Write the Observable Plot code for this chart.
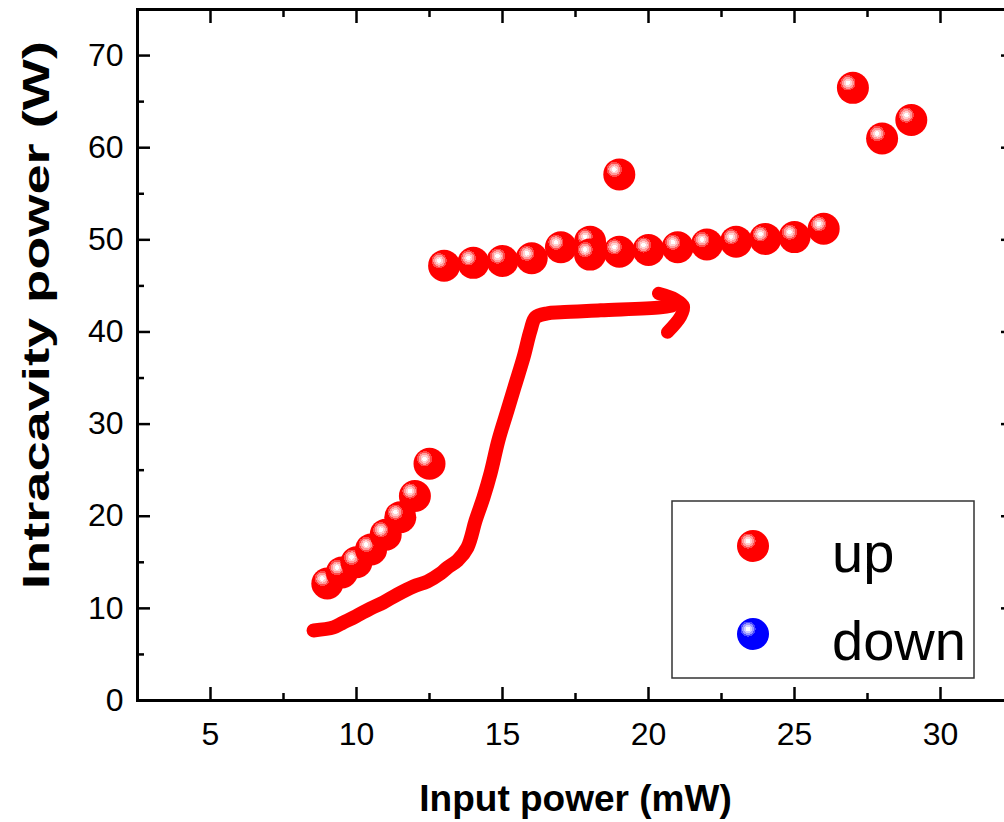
<!DOCTYPE html>
<html><head><meta charset="utf-8">
<script src="https://cdn.jsdelivr.net/npm/d3@7"></script>
<script src="https://cdn.jsdelivr.net/npm/@observablehq/plot@0.6"></script>
<style>
body{margin:0;background:#fff;}
#chart{position:relative;width:1004px;height:822px;overflow:hidden;}
#chart svg{font-family:"Liberation Sans",Arial,sans-serif;}
</style></head><body><div id="chart"></div>
<script>
// "up" series (input power mW, intracavity power W)
const upX = [9, 9.5, 10, 10.5, 11, 11.5, 12, 12.5, 13, 14, 15, 16, 17, 18, 18, 19, 20, 21, 22, 23, 24, 25, 26, 19, 27, 28, 29];
const upY = [12.7, 13.9, 15.0, 16.4, 18.0, 19.9, 22.2, 25.7, 47.2, 47.5, 47.7, 48.0, 49.2, 49.8, 48.4, 48.7, 48.9, 49.2, 49.5, 49.8, 50.1, 50.3, 51.2, 57.1, 66.5, 61.0, 63.0];
// "down" series (legend only, no points visible)
const downX = [];
const downY = [];
// hand-drawn guide curve
const curveX = [8.53, 9.21, 9.55, 9.97, 10.48, 10.92, 11.40, 11.95, 12.43, 12.88, 13.12, 13.46, 13.80, 14.08, 14.35, 14.59, 14.86, 15.17, 15.45, 15.72, 15.96, 16.13, 16.54, 16.99, 18.36, 20.41, 20.82];
const curveY = [7.6, 7.93, 8.47, 9.12, 9.99, 10.64, 11.51, 12.38, 12.92, 13.79, 14.44, 15.20, 16.61, 19.54, 22.04, 24.65, 28.23, 31.49, 34.42, 37.24, 40.17, 41.58, 42.02, 42.13, 42.35, 42.67, 42.89];
const arrowX = [20.34, 20.92, 21.20, 21.10, 20.65];
const arrowY = [44.19, 43.54, 42.78, 41.69, 39.96];
// ticks
const xTicks = [5, 10, 15, 20, 25, 30];
const xMinor = [2.5, 7.5, 12.5, 17.5, 22.5, 27.5, 32.5];
const yTicks = [0, 10, 20, 30, 40, 50, 60, 70];
const yMinor = [5, 15, 25, 35, 45, 55, 65, 75];
const xLabel = "Input power (mW)";
const yLabel = "Intracavity power (W)";
const legendLabels = ["up", "down"];
const legendColors = ["red", "blue"];

const up = upX.map((x, i) => ({x, y: upY[i]}));
const down = downX.map((x, i) => ({x, y: downY[i]}));
const curve = curveX.map((x, i) => ({x, y: curveY[i]}));
const arrow = arrowX.map((x, i) => ({x, y: arrowY[i]}));

const tk = {strokeWidth: 2.5, fill: "none", label: null};
const svg = Plot.plot({
  width: 1004,
  height: 822,
  marginLeft: 137,
  marginRight: -9,
  marginTop: 9,
  marginBottom: 122,
  x: {domain: [2.5, 32.5]},
  y: {domain: [0, 75]},
  marks: [
    Plot.axisX(xTicks, {anchor: "bottom", tickSize: 13, dy: -13, ...tk}),
    Plot.axisX(xMinor, {anchor: "bottom", tickSize: 7, dy: -7, ...tk}),
    Plot.axisX(xTicks, {anchor: "top", tickSize: 13, dy: 13, ...tk}),
    Plot.axisX(xMinor, {anchor: "top", tickSize: 7, dy: 7, ...tk}),
    Plot.axisY(yTicks, {anchor: "left", tickSize: 13, dx: 13, ...tk}),
    Plot.axisY(yMinor, {anchor: "left", tickSize: 7, dx: 7, ...tk}),
    Plot.axisY(yTicks, {anchor: "right", tickSize: 13, dx: -13, ...tk}),
    Plot.axisY(yMinor, {anchor: "right", tickSize: 7, dx: -7, ...tk}),
    Plot.axisX(xTicks, {anchor: "bottom", tickSize: 0, tickPadding: 22, fontSize: 32, fill: "black", label: null}),
    Plot.axisY(yTicks, {anchor: "left", tickSize: 0, tickPadding: 14, fontSize: 32, fill: "black", label: null}),
    Plot.frame({stroke: "black", strokeWidth: 3}),
    Plot.text([xLabel], {frameAnchor: "bottom", dy: 110, fontSize: 37, fontWeight: "bold", fill: "black", className: "xtitle"}),
    Plot.text([yLabel], {frameAnchor: "left", textAnchor: "middle", dx: -100, dy: -40, rotate: -90, fontSize: 37, fontWeight: "bold", fill: "black", className: "ytitle"}),
    Plot.line(curve, {x: "x", y: "y", stroke: "#ff0000", strokeWidth: 14, curve: "catmull-rom", strokeLinejoin: "round"}),
    Plot.line(arrow, {x: "x", y: "y", stroke: "#ff0000", strokeWidth: 13, curve: "catmull-rom", strokeLinejoin: "round"}),
    Plot.dot(down, {x: "x", y: "y", r: 16, fill: "url(#sphere-blue)", stroke: "none"}),
    Plot.dot(up, {x: "x", y: "y", r: 16, fill: "url(#sphere-red)", stroke: "none"})
  ]
});

const sel = d3.select(svg);
// stretch the vertical title along its length as in the reference
sel.selectAll(".ytitle text").attr("textLength", 548).attr("lengthAdjust", "spacingAndGlyphs");

const defs = sel.insert("defs", ":first-child");
function sphere(id, base, c1, c2, c3) {
  const g = defs.append("radialGradient").attr("id", id)
    .attr("cx", 0.345).attr("cy", 0.345).attr("fx", 0.345).attr("fy", 0.345).attr("r", 0.5);
  const stops = [[0, "#ffffff"], [0.14, "#ffffff"], [0.14, c1], [0.25, c1], [0.25, c2], [0.37, c2], [0.37, c3], [0.47, c3], [0.47, base], [1, base]];
  stops.forEach(([o, c]) => g.append("stop").attr("offset", o).attr("stop-color", c));
}
sphere("sphere-red", "#ff0000", "#ffd0d0", "#ff9a9a", "#ff4a4a");
sphere("sphere-blue", "#0000ff", "#d0d0ff", "#9a9aff", "#4a4aff");

// legend
const lg = sel.append("g").attr("text-anchor", "start");
lg.append("rect").attr("x", 672).attr("y", 501).attr("width", 302).attr("height", 177)
  .attr("fill", "white").attr("stroke", "#333").attr("stroke-width", 1.5);
legendLabels.forEach((lab, i) => {
  const cy = 546 + i * 88;
  lg.append("circle").attr("cx", 753).attr("cy", cy).attr("r", 16)
    .attr("fill", legendColors[i] === "red" ? "url(#sphere-red)" : "url(#sphere-blue)");
  lg.append("text").attr("x", 832).attr("y", cy + 26).attr("font-size", 56).attr("fill", "black").text(lab);
});

document.getElementById("chart").appendChild(svg);
</script>
</body></html>
